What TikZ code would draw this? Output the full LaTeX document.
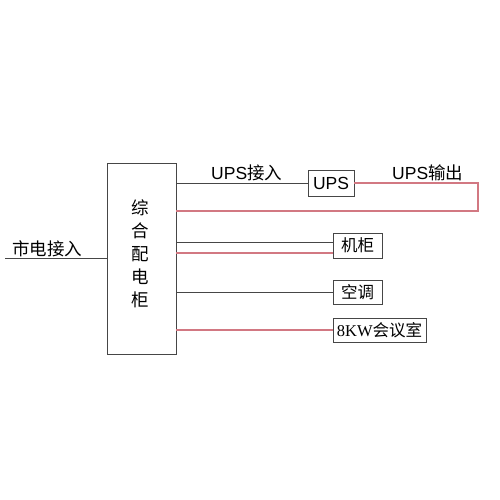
\documentclass[tikz,border=0pt]{standalone}
\usepackage{fontspec}
\setmainfont{Liberation Serif}
\newfontfamily\cjk{Noto Sans CJK SC}
\newfontfamily\arialf{Liberation Sans}
\definecolor{redline}{RGB}{210,120,130}
\definecolor{blkline}{RGB}{70,70,70}
\begin{document}
\begin{tikzpicture}[x=1pt,y=-1pt,
  box/.style={draw=blkline,line width=0.8pt,inner sep=0pt,outer sep=0pt},
  bl/.style={draw=blkline,line width=0.8pt},
  rl/.style={draw=redline,line width=1.1pt},
  lbl/.style={inner sep=0pt,font=\cjk\fontsize{16}{18}\selectfont}]
\useasboundingbox[fill=white] (0,0) rectangle (500,500);
% main cabinet
\node[box,minimum width=69pt,minimum height=191pt,anchor=north west] (main) at (107,163) {};
\node[lbl,align=center,font=\cjk\fontsize{17.5}{23}\selectfont] (maintxt) at (140,254) {综\\合\\配\\电\\柜};
% mains input
\coordinate (in) at (5,258);
\draw[bl] (in) -- (in -| main.west);
\node[lbl,anchor=south west,font=\cjk\fontsize{17.5}{19}\selectfont] (intxt) at (12,257) {市电接入};
% UPS
\node[box,minimum width=46pt,minimum height=26pt,anchor=north west,font=\arialf\fontsize{17.5}{19}\selectfont] (ups) at (308,170) {UPS};
\draw[bl] (main.east |- ups.west) -- (ups.west);
\node[lbl,anchor=south west,font=\fontsize{17.5}{19}\selectfont] (upsin) at (211,181) {\arialf UPS\cjk 接入};
\coordinate (c1) at (478,183);
\coordinate (c2) at (478,211);
\draw[rl] (ups.east) -- (c1) -- (c2) -- (c2 -| main.east);
\node[lbl,anchor=south west,font=\fontsize{17.5}{19}\selectfont] (upsout) at (392,181) {\arialf UPS\cjk 输出};
% 机柜
\node[box,minimum width=49pt,minimum height=25pt,anchor=north west,font=\cjk\fontsize{16.5}{18}\selectfont] (jg) at (333,233) {机柜};
\draw[bl] (main.east |- 0,242) -- (jg.west |- 0,242);
\draw[rl] (main.east |- 0,253) -- (jg.west |- 0,253);
% 空调
\node[box,minimum width=49pt,minimum height=24pt,anchor=north west,font=\cjk\fontsize{16.5}{18}\selectfont] (kt) at (333,280) {空调};
\draw[bl] (main.east |- 0,292) -- (kt.west |- 0,292);
% 8KW会议室
\node[box,minimum width=93pt,minimum height=24pt,anchor=north west,font=\fontsize{16.5}{18}\selectfont] (hy) at (333,318) {8KW\cjk 会议室};
\draw[rl] (main.east |- 0,330) -- (hy.west |- 0,330);
\end{tikzpicture}
\end{document}
